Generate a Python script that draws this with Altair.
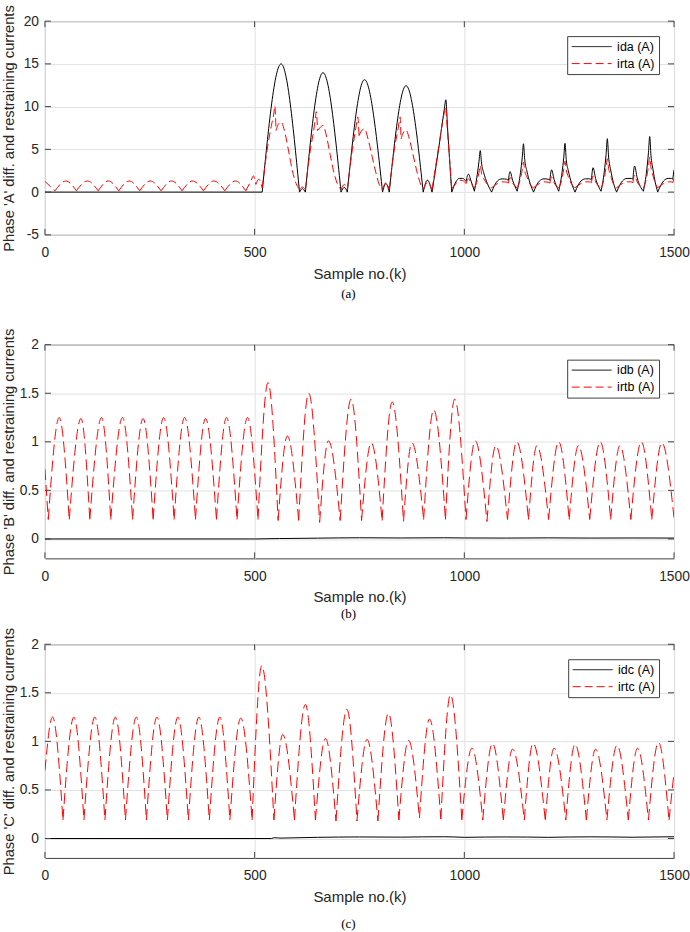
import altair as alt
import pandas as pd

# Plot geometry and styling
W, H = 630, 214
FRAME = "#404040"
TEXT = "#262626"
GRID = "#e1e1e1"
FONT = "Liberation Sans"
KEY_DASH = [8, 4]

X_TICKS = [0, 500, 1000, 1500]
A_TICKS = [-5, 0, 5, 10, 15, 20]
BC_TICKS = [0, 0.5, 1, 1.5, 2]

# ---------------- Phase A ----------------
ida_x = [0, 518, 563, 607, 614, 621, 663, 706, 714, 721, 762, 805, 813, 821, 861, 902, 912, 923, 940, 952, 956, 960, 970,
         980, 988, 996, 1004, 1010, 1016, 1024, 1031, 1035, 1038, 1041, 1046, 1055, 1065,
         1079, 1090, 1101, 1105, 1109, 1115, 1126, 1134, 1138, 1141, 1144, 1149, 1157, 1165,
         1179, 1190, 1200, 1204, 1208, 1214, 1225, 1233, 1237, 1240, 1243, 1248, 1256, 1264,
         1278, 1289, 1299, 1303, 1307, 1313, 1326, 1334, 1338, 1341, 1344, 1349, 1356, 1363,
         1377, 1388, 1398, 1402, 1406, 1412, 1427, 1435, 1439, 1442, 1445, 1450, 1455, 1461,
         1475, 1486, 1494, 1497, 1500]
ida_y = [0, 0, 15.0, 0, 0.4, 0, 13.97, 0, 0.55, 0, 13.15, 0, 1.0, 0, 12.45, 0, 1.4, 0, 5.5, 9.6, 10.8, 7.5, 0,
         1.2, 1.6, 1.6, 1.25, 2.1, 1.3, 0.1, 2.1, 3.6, 4.85, 3.4, 2.3, 1.0, 0,
         1.3, 1.55, 1.5, 1.35, 2.4, 1.4, 0.1, 2.3, 4.0, 5.65, 3.8, 2.5, 1.0, 0,
         1.3, 1.55, 1.5, 1.4, 2.6, 1.5, 0.1, 2.3, 4.0, 5.7, 3.8, 2.5, 1.0, 0,
         1.3, 1.55, 1.55, 1.45, 2.85, 1.6, 0.1, 2.5, 4.4, 6.25, 4.1, 2.6, 1.0, 0,
         1.3, 1.6, 1.6, 1.5, 3.05, 1.7, 0.1, 2.6, 4.6, 6.5, 4.3, 2.6, 1.2, 0,
         1.3, 1.6, 1.6, 1.5, 2.6]

irta_x = [0, 24, 50, 75, 101, 127, 151, 176, 201, 226, 251, 277, 302, 327, 352, 378, 403, 429, 454, 479, 492, 497, 503, 510, 518,
          530, 540, 546, 548, 551, 556, 563, 572, 581, 590, 599, 607, 614, 621,
          633, 642, 645, 647, 650, 655, 663, 672, 680, 688, 697, 706, 714, 721,
          733, 741, 744, 746, 749, 754, 762, 771, 780, 789, 797, 805, 813, 821,
          833, 842, 845, 847, 849, 854, 861, 870, 879, 888, 896, 902, 912, 923,
          938, 950, 955, 960, 970,
          980, 988, 996, 1004, 1010, 1016, 1024, 1031, 1035, 1038, 1041, 1046, 1055, 1065,
          1079, 1090, 1101, 1105, 1109, 1115, 1126, 1134, 1138, 1141, 1144, 1149, 1157, 1165,
          1179, 1190, 1200, 1204, 1208, 1214, 1225, 1233, 1237, 1240, 1243, 1248, 1256, 1264,
          1278, 1289, 1299, 1303, 1307, 1313, 1326, 1334, 1338, 1341, 1344, 1349, 1356, 1363,
          1377, 1388, 1398, 1402, 1406, 1412, 1427, 1435, 1439, 1442, 1445, 1450, 1455, 1461,
          1475, 1486, 1494, 1497, 1500]
irta_y = [1.25, 0.15, 1.3, 0.15, 1.3, 0.15, 1.3, 0.15, 1.3, 0.15, 1.3, 0.15, 1.3, 0.15, 1.3, 0.15, 1.3, 0.15, 1.3, 0.15, 1.4, 1.9, 0.9, 1.5, 0.5,
          5.0, 7.8, 9.3, 10.1, 7.2, 7.9, 8.2, 7.0, 4.8, 2.5, 1.0, 0.3, 0.6, 0.3,
          5.0, 7.6, 8.8, 9.4, 7.2, 7.5, 7.8, 6.4, 4.4, 2.5, 1.0, 0.3, 0.9, 0.3,
          5.0, 7.4, 8.3, 8.8, 6.6, 7.1, 7.4, 6.1, 4.2, 2.3, 0.9, 0.3, 1.1, 0.3,
          5.0, 7.4, 8.3, 8.8, 6.2, 6.9, 7.25, 6.0, 4.1, 2.2, 0.9, 0.3, 1.1, 0.3,
          5.0, 8.7, 9.9, 7.0, 0.4,
          1.0, 1.4, 1.35, 1.0, 1.55, 1.0, 0.5, 1.4, 2.3, 3.1, 2.2, 1.6, 0.9, 0.5,
          1.0, 1.2, 1.15, 1.05, 1.7, 1.1, 0.5, 1.6, 2.6, 3.5, 2.5, 1.8, 0.9, 0.5,
          1.0, 1.2, 1.15, 1.05, 1.8, 1.1, 0.5, 1.6, 2.7, 3.6, 2.6, 1.8, 0.9, 0.5,
          1.0, 1.2, 1.2, 1.1, 1.9, 1.2, 0.5, 1.7, 2.9, 3.9, 2.8, 1.9, 0.9, 0.5,
          1.0, 1.2, 1.2, 1.1, 2.0, 1.2, 0.5, 1.8, 3.0, 4.1, 2.9, 1.9, 1.1, 0.5,
          1.0, 1.2, 1.2, 1.1, 1.6]

# ---------------- Phase B ----------------
idb_x = [0, 500, 560, 650, 750, 850, 950, 1000, 1100, 1200, 1300, 1400, 1500]
idb_y = [0, 0, 0.004, 0.008, 0.012, 0.01, 0.012, 0.01, 0.009, 0.011, 0.009, 0.01, 0.009]

irtb_x = [0, 8, 34, 58, 86, 107, 135, 157, 185, 209, 234, 258, 283, 308, 333, 359, 383, 409, 433, 458,
          483, 508, 532, 556, 578, 605, 629, 655, 676, 704, 730, 755, 778, 804, 828, 855, 875, 903, 927, 955,
          977, 1004, 1026, 1054, 1075, 1103, 1125, 1153, 1173, 1201, 1225, 1250, 1272, 1299, 1324, 1349,
          1371, 1397, 1422, 1447, 1471, 1500]
irtb_y = [0.72, 0.2, 1.25, 0.2, 1.24, 0.2, 1.25, 0.2, 1.25, 0.2, 1.24, 0.2, 1.25, 0.2, 1.25, 0.2, 1.24, 0.2, 1.25, 0.2,
          1.25, 0.2, 1.61, 0.19, 1.06, 0.19, 1.50, 0.17, 1.01, 0.19, 1.44, 0.19, 0.99, 0.19, 1.41, 0.18, 0.99, 0.2, 1.33, 0.2,
          1.44, 0.2, 1.01, 0.18, 0.96, 0.2, 1.0, 0.2, 0.96, 0.2, 1.0, 0.2, 0.96, 0.2, 1.0, 0.2,
          0.96, 0.2, 1.0, 0.2, 0.99, 0.22]

# ---------------- Phase C ----------------
idc_x = [0, 540, 548, 560, 650, 750, 850, 950, 1000, 1100, 1200, 1300, 1400, 1500]
idc_y = [0, 0, 0.008, 0.004, 0.012, 0.016, 0.014, 0.018, 0.012, 0.016, 0.012, 0.017, 0.013, 0.018]

irtc_x = [0, 18, 43, 69, 93, 119, 143, 168, 192, 218, 242, 267, 292, 317, 342, 367, 392, 417, 441, 467,
          494, 517, 546, 567, 595, 621, 645, 669, 694, 720, 744, 768, 794, 819, 844, 867, 893, 917, 944, 967,
          994, 1018, 1044, 1067, 1093, 1115, 1143, 1164, 1193, 1214, 1242, 1264, 1291, 1313, 1340, 1364,
          1391, 1413, 1439, 1463, 1488, 1500]
irtc_y = [0.7, 1.25, 0.19, 1.25, 0.19, 1.25, 0.19, 1.25, 0.19, 1.25, 0.19, 1.25, 0.19, 1.25, 0.19, 1.25, 0.19, 1.25, 0.19, 1.24,
          0.19, 1.78, 0.19, 1.07, 0.19, 1.38, 0.19, 1.03, 0.18, 1.33, 0.18, 1.02, 0.18, 1.29, 0.19, 1.01, 0.21, 1.23, 0.2, 1.48,
          0.19, 0.93, 0.19, 0.98, 0.19, 0.92, 0.19, 0.98, 0.19, 0.93, 0.19, 0.97, 0.19, 0.92, 0.19, 0.96,
          0.19, 0.93, 0.19, 0.99, 0.19, 0.68]


def to_rows(xs, ys, name):
    """Split a trace into pieces at its valleys so each valley stays a sharp cusp."""
    assert len(xs) == len(ys), name
    rows, seg = [], 0
    for i, (xv, yv) in enumerate(zip(xs, ys)):
        rows.append((xv, yv, name, f"{name}|{seg}"))
        if 0 < i < len(xs) - 1:
            p, n = ys[i - 1], ys[i + 1]
            if yv <= p and yv <= n and not (yv == p and yv == n):
                seg += 1
                rows.append((xv, yv, name, f"{name}|{seg}"))
    return rows


def panel(series, y_title, y_domain, y_ticks, caption, cap_offset, line_dash):
    names = [s[0] for s in series]
    rows = []
    for name, xs, ys in series:
        rows += to_rows(xs, ys, name)
    df = pd.DataFrame(rows, columns=["x", "y", "series", "seg"])

    x_enc = alt.X(
        "x:Q",
        scale=alt.Scale(domain=[0, 1500], nice=False, zero=False),
        axis=alt.Axis(values=X_TICKS, title="Sample no.(k)", labelExpr="toString(datum.value)",
                      labelPadding=21.7, labelBaseline="alphabetic", labelFlush=False,
                      titleY=43.5, titleBaseline="alphabetic", titleFontSize=15),
    )
    y_enc = alt.Y(
        "y:Q",
        scale=alt.Scale(domain=y_domain, nice=False, zero=False),
        axis=alt.Axis(values=y_ticks, title=y_title, labelExpr="toString(datum.value)",
                      labelPadding=6.5, titleX=-31, titleBaseline="alphabetic", titleAngle=270,
                      titleFontSize=14.7),
    )
    leg = alt.Legend(title=None)
    color = alt.Color("series:N", scale=alt.Scale(domain=names, range=["#000000", "#ff0000"]),
                      legend=leg, sort=names)
    dash = alt.StrokeDash("series:N", scale=alt.Scale(domain=names, range=[[1, 0], KEY_DASH]),
                          legend=leg, sort=names)

    # key only: no rows pass the filter, the legend is built from the scale domain
    key = alt.Chart(df).transform_filter("datum.x < -1").mark_line(strokeWidth=1).encode(
        x=x_enc, y=y_enc, color=color, strokeDash=dash, detail="seg:N"
    )
    # the traces themselves (restraining current drawn on top)
    diff_line = alt.Chart(df).transform_filter(alt.datum.series == names[0]).mark_line(
        strokeWidth=1, interpolate="monotone", clip=True, color="#000000"
    ).encode(x=x_enc, y=y_enc, detail="seg:N")
    rest_line = alt.Chart(df).transform_filter(alt.datum.series == names[1]).mark_line(
        strokeWidth=1, interpolate="monotone", clip=True, color="#ff0000", strokeDash=line_dash
    ).encode(x=x_enc, y=y_enc, detail="seg:N")

    # inward tick marks on all four sides of the box
    xt = alt.Chart(pd.DataFrame({"x": X_TICKS}))
    yt = alt.Chart(pd.DataFrame({"y": y_ticks}))
    tk = dict(color=FRAME, strokeWidth=1)
    t_bottom = xt.mark_rule(**tk).encode(x=x_enc, y=alt.value(H), y2=alt.value(H - 6))
    t_top = xt.mark_rule(**tk).encode(x=x_enc, y=alt.value(0), y2=alt.value(6))
    t_left = yt.mark_rule(**tk).encode(y=y_enc, x=alt.value(0), x2=alt.value(6))
    t_right = yt.mark_rule(**tk).encode(y=y_enc, x=alt.value(W - 6), x2=alt.value(W))

    return alt.layer(key, diff_line, rest_line, t_bottom, t_top, t_left, t_right).properties(
        width=W,
        height=H,
        title=alt.TitleParams(caption, orient="bottom", font="Liberation Serif", fontSize=13,
                              fontWeight="normal", color="#000000", offset=cap_offset,
                              frame="group", anchor="middle", dx=-11, baseline="top"),
    )


def spacer(h):
    return alt.Chart(pd.DataFrame({"v": [0]})).mark_point(opacity=0).encode(
        x=alt.X("v:Q", axis=None), y=alt.Y("v:Q", axis=None)
    ).properties(width=W, height=h, view=alt.ViewBackground(stroke="transparent"))


pa = panel([("ida (A)", ida_x, ida_y), ("irta (A)", irta_x, irta_y)],
           "Phase 'A' diff. and restraining currents", [-5, 20], A_TICKS, "(a)", 7, [8, 4])
pb = panel([("idb (A)", idb_x, idb_y), ("irtb (A)", irtb_x, irtb_y)],
           "Phase 'B' diff. and restraining currents", [-0.2, 2], BC_TICKS, "(b)", 3.5, [11, 5])
pc = panel([("idc (A)", idc_x, idc_y), ("irtc (A)", irtc_x, irtc_y)],
           "Phase 'C' diff. and restraining currents", [-0.2, 2], BC_TICKS, "(c)", 14, [11, 5])

chart = alt.vconcat(
    pa, spacer(110), pb, spacer(86), pc, spacing=0, bounds="flush"
).resolve_scale(
    x="independent", y="independent", color="independent", strokeDash="independent"
).resolve_legend(
    color="independent", strokeDash="independent"
).properties(
    padding={"left": 1, "top": 3.5, "right": 0, "bottom": 0},
    background="white",
).configure_view(
    stroke=FRAME, strokeWidth=1
).configure_axis(
    domain=False, ticks=False, tickSize=0, grid=True, gridColor=GRID, gridWidth=1,
    labelFont=FONT, labelFontSize=13.8, labelColor=TEXT,
    titleFont=FONT, titleFontWeight="normal", titleColor=TEXT,
).configure_legend(
    orient="top-right", offset=15, fillColor="white", strokeColor=FRAME, padding=4,
    symbolType="stroke", symbolSize=1600, symbolStrokeWidth=1, clipHeight=13,
    labelFont=FONT, labelFontSize=12.5, labelColor="#000000", labelOffset=5, rowPadding=4,
)

chart.save("out.html", embed_options={"renderer": "svg", "actions": False})
